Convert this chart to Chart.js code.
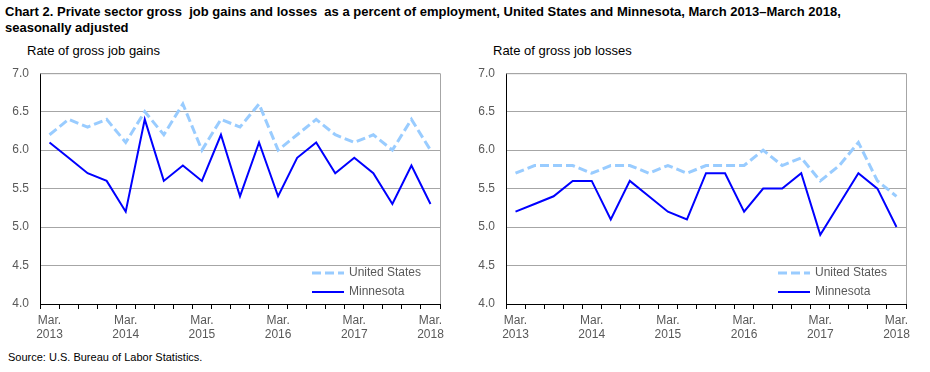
<!DOCTYPE html>
<html>
<head>
<meta charset="utf-8">
<script src="https://cdn.jsdelivr.net/npm/chart.js@4/dist/chart.umd.min.js"></script>
<style>
  body { margin: 0; background: #fff; width: 930px; height: 372px; position: relative; overflow: hidden; font-family: "Liberation Sans", Arial, sans-serif; }
  .title { position: absolute; left: 5px; top: 4px; font-size: 13px; font-weight: bold; color: #000; line-height: 16px; white-space: pre; }
  .sub { position: absolute; top: 43px; font-size: 13px; color: #000; }
  .src { position: absolute; left: 8px; top: 351px; font-size: 11px; color: #000; }
  .wrap { position: absolute; top: 55px; width: 460px; height: 295px; }
  canvas { display: block; }
</style>
</head>
<body>
<div class="title">Chart 2. Private sector gross  job gains and losses  as a percent of employment, United States and Minnesota, March 2013–March 2018,
seasonally adjusted</div>
<div class="sub" style="left:27px">Rate of gross job gains</div>
<div class="sub" style="left:493px">Rate of gross job losses</div>
<div class="wrap" style="left:0px"><canvas id="gains"></canvas></div>
<div class="wrap" style="left:466px"><canvas id="losses"></canvas></div>
<div class="src">Source: U.S. Bureau of Labor Statistics.</div>
<script>
const quarters = [
  "Mar. 2013", "Jun. 2013", "Sep. 2013", "Dec. 2013",
  "Mar. 2014", "Jun. 2014", "Sep. 2014", "Dec. 2014",
  "Mar. 2015", "Jun. 2015", "Sep. 2015", "Dec. 2015",
  "Mar. 2016", "Jun. 2016", "Sep. 2016", "Dec. 2016",
  "Mar. 2017", "Jun. 2017", "Sep. 2017", "Dec. 2017",
  "Mar. 2018"
];
const gainsUS = [6.2, 6.4, 6.3, 6.4, 6.1, 6.5, 6.2, 6.6, 6.0, 6.4, 6.3, 6.6, 6.0, 6.2, 6.4, 6.2, 6.1, 6.2, 6.0, 6.4, 6.0];
const gainsMN = [6.1, 5.9, 5.7, 5.6, 5.2, 6.4, 5.6, 5.8, 5.6, 6.2, 5.4, 6.1, 5.4, 5.9, 6.1, 5.7, 5.9, 5.7, 5.3, 5.8, 5.3];
const lossesUS = [5.7, 5.8, 5.8, 5.8, 5.7, 5.8, 5.8, 5.7, 5.8, 5.7, 5.8, 5.8, 5.8, 6.0, 5.8, 5.9, 5.6, 5.8, 6.1, 5.6, 5.4];
const lossesMN = [5.2, 5.3, 5.4, 5.6, 5.6, 5.1, 5.6, 5.4, 5.2, 5.1, 5.7, 5.7, 5.2, 5.5, 5.5, 5.7, 4.9, 5.3, 5.7, 5.5, 5.0];
const yMin = 4.0, yMax = 7.0, yStep = 0.5;

const labelColor = "#595959";
const gridColor = "#a6a6a6";

// legend inside the plot and grey top/right frame
const framePlugin = {
  id: "frame",
  afterDatasetsDraw(chart) {
    const { ctx, chartArea: a } = chart;
    ctx.save();
    ctx.strokeStyle = gridColor;
    ctx.lineWidth = 1;
    ctx.beginPath();
    ctx.moveTo(a.left, a.top + 0.5);
    ctx.lineTo(a.right + 0.5, a.top + 0.5);
    ctx.lineTo(a.right + 0.5, a.bottom);
    ctx.stroke();

    const x0 = a.right - 128;
    chart.data.datasets.forEach((ds, i) => {
      const y = a.bottom - 31 + i * 19;
      ctx.strokeStyle = ds.borderColor;
      ctx.lineWidth = ds.borderWidth;
      ctx.setLineDash(ds.borderDash || []);
      ctx.beginPath();
      ctx.moveTo(x0, y);
      ctx.lineTo(x0 + 32, y);
      ctx.stroke();
      ctx.setLineDash([]);
      ctx.fillStyle = labelColor;
      ctx.font = "12px 'Liberation Sans', Arial, sans-serif";
      ctx.textBaseline = "middle";
      ctx.fillText(ds.label, x0 + 37, y);
    });
    ctx.restore();
  }
};

function makeChart(id, us, mn) {
  return new Chart(document.getElementById(id), {
    type: "line",
    data: {
      labels: quarters,
      datasets: [
        { label: "United States", data: us, borderColor: "#99ccff", borderWidth: 3, borderDash: [9, 4], pointRadius: 0, tension: 0, fill: false },
        { label: "Minnesota", data: mn, borderColor: "#0000ff", borderWidth: 2, pointRadius: 0, tension: 0, fill: false }
      ]
    },
    options: {
      responsive: false,
      animation: false,
      layout: { padding: { top: 7, right: 20, left: 0, bottom: 0 } },
      plugins: { legend: { display: false }, tooltip: { enabled: false } },
      scales: {
        x: {
          offset: true,
          afterFit: (s) => { s.height = 46; },
          border: { color: "#000", width: 1 },
          grid: { offset: true, drawOnChartArea: false, drawTicks: true, tickLength: 5, color: "#000" },
          ticks: {
            autoSkip: false, maxRotation: 0, minRotation: 0, padding: 4,
            color: labelColor,
            font: { family: "'Liberation Sans', Arial, sans-serif", size: 12 },
            callback: (v, i) => i % 4 === 0 ? quarters[i].split(" ") : ""
          }
        },
        y: {
          min: yMin, max: yMax,
          afterFit: (s) => { s.width = 40; },
          border: { color: "#000", width: 1 },
          grid: { color: gridColor, drawTicks: false },
          ticks: {
            stepSize: yStep, padding: 11,
            color: labelColor,
            font: { family: "'Liberation Sans', Arial, sans-serif", size: 12 },
            callback: (v) => v.toFixed(1)
          }
        }
      }
    },
    plugins: [framePlugin]
  });
}

function sizeCanvas(id) {
  const c = document.getElementById(id);
  c.width = 460; c.height = 295;
  c.style.width = "460px"; c.style.height = "295px";
}
sizeCanvas("gains");
sizeCanvas("losses");
makeChart("gains", gainsUS, gainsMN);
makeChart("losses", lossesUS, lossesMN);
</script>
</body>
</html>
